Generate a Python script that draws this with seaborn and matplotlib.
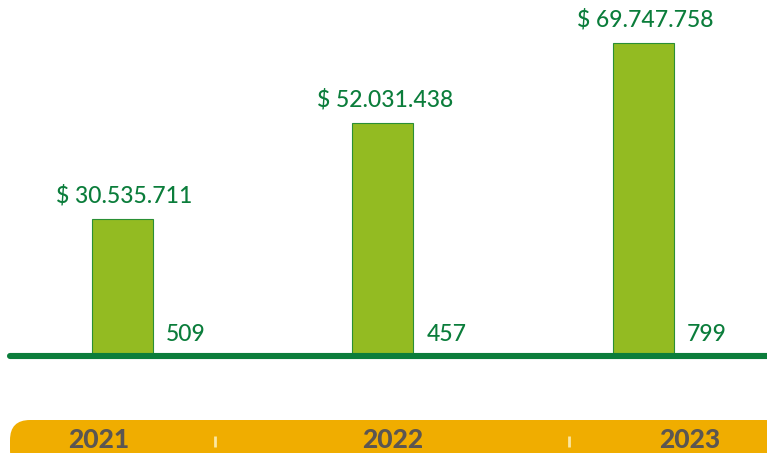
import matplotlib
matplotlib.use('Agg')
import matplotlib.pyplot as plt
import seaborn as sns
import pandas as pd
from matplotlib.patches import FancyBboxPatch

# data
years = ['2021', '2022', '2023']
amounts = [30535711, 52031438, 69747758]
counts = [509, 457, 799]

df = pd.DataFrame({'year': years, 'amount': amounts})

sns.set_theme(style='white')
plt.rcParams['font.family'] = ['Lato', 'DejaVu Sans']

W, H = 767, 453
fig = plt.figure(figsize=(W / 100, H / 100), dpi=100)

dark_green = '#0b7d3b'
bar_green = '#93bb22'
band_color = '#f0ad00'

# main axes: baseline at y=356 px from top
base_px = 356
ax = fig.add_axes([0, 1 - base_px / H, 1, base_px / H])
sns.barplot(data=df, x='year', y='amount', color=bar_green, width=0.234,
            edgecolor='#2a8f35', linewidth=0.8, saturation=1, ax=ax, zorder=2)

ymax = max(amounts) * base_px / 313
ax.set_ylim(0, ymax)
ax.set_xlim(-0.470, 2.474)
ax.axis('off')

# baseline
ax.axhline(0, xmin=10 / W, xmax=1, color=dark_green, linewidth=4.4, zorder=3,
           clip_on=False)

for i, (a, c) in enumerate(zip(amounts, counts)):
    label = '$ ' + f'{a:,}'.replace(',', '.')
    ax.annotate(label, (i, a), xytext=(2, 12), textcoords='offset pixels',
                ha='center', va='bottom', fontsize=16.5, fontweight='medium',
                color=dark_green)
    ax.annotate(str(c), (i + 0.117, 0), xytext=(13, 11), textcoords='offset pixels',
                ha='left', va='bottom', fontsize=16.5, fontweight='medium',
                color=dark_green)

# year band
band_top = 412
bax = fig.add_axes([0, 0, 1, (H - band_top) / H])
bax.set_xlim(0, W)
bax.set_ylim(H, band_top)
bax.axis('off')
band = FancyBboxPatch((10, 420), 775, 50,
                      boxstyle='round,pad=0,rounding_size=20',
                      facecolor=band_color, edgecolor='none', clip_on=False)
bax.add_patch(band)

year_px = [99, 393, 690]
for y, xp in zip(years, year_px):
    bax.text(xp, 448, y, ha='center', va='baseline', fontsize=19,
             fontweight='black', color='#5b5652')

for xp in [215, 569]:
    bax.plot([xp, xp], [436, 447], color='#fbe7a1', linewidth=2,
             solid_capstyle='butt')

fig.savefig('out.png', dpi=100)
